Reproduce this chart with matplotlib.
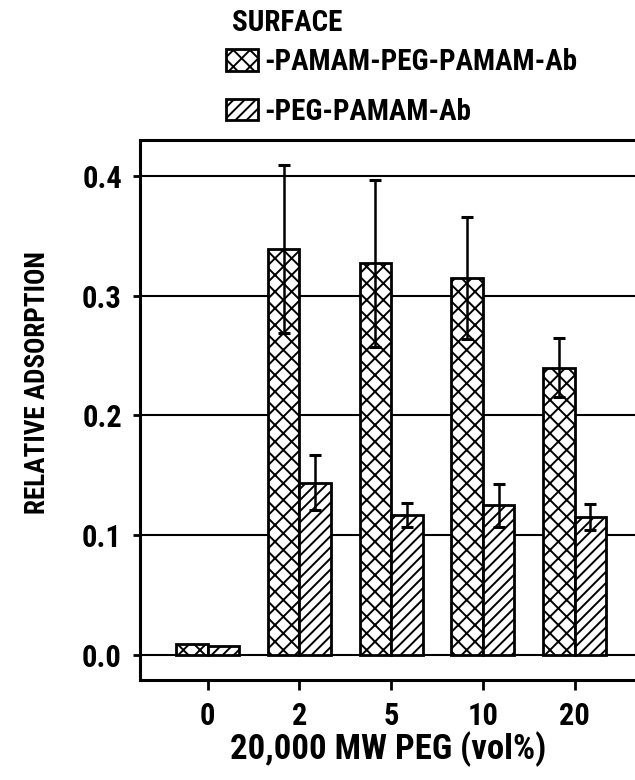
import numpy as np
import matplotlib
matplotlib.use("Agg")
import matplotlib.pyplot as plt
from matplotlib.patches import Patch

plt.rcParams['font.family'] = ['Roboto Condensed', 'DejaVu Sans']
plt.rcParams['font.stretch'] = 'condensed'
plt.rcParams['font.weight'] = 'bold'
plt.rcParams['axes.labelweight'] = 'bold'
plt.rcParams['hatch.linewidth'] = 1.4

# PEG concentration categories (vol%)
categories = ["0", "2", "5", "10", "20"]

# relative adsorption for each surface
pamam_peg_pamam_ab = [0.009, 0.339, 0.327, 0.315, 0.240]
pamam_peg_pamam_ab_err = [np.nan, 0.070, 0.070, 0.051, 0.025]
peg_pamam_ab = [0.0075, 0.144, 0.117, 0.125, 0.115]
peg_pamam_ab_err = [np.nan, 0.023, 0.010, 0.018, 0.011]

series_labels = ["-PAMAM-PEG-PAMAM-Ab", "-PEG-PAMAM-Ab"]
y_ticks = [0.0, 0.1, 0.2, 0.3, 0.4]

fig = plt.figure(figsize=(6.35, 7.8), dpi=100)
ax = fig.add_axes([140 / 635, 1 - 680 / 780, 501 / 635, 540 / 780])

x = np.arange(len(categories))
w = 0.343
edge_lw = 2.0

ax.bar(x - w / 2, pamam_peg_pamam_ab, w, facecolor="white", edgecolor="black",
       linewidth=edge_lw, hatch="xx", zorder=3)
ax.bar(x + w / 2, peg_pamam_ab, w, facecolor="white", edgecolor="black",
       linewidth=edge_lw, hatch="///", zorder=3)

ax.errorbar(x - w / 2, pamam_peg_pamam_ab, yerr=pamam_peg_pamam_ab_err, fmt="none",
            ecolor="black", elinewidth=1.8, capsize=4.3, capthick=2.2, zorder=4)
ax.errorbar(x + w / 2, peg_pamam_ab, yerr=peg_pamam_ab_err, fmt="none",
            ecolor="black", elinewidth=1.8, capsize=4.3, capthick=2.2, zorder=4)

ax.set_xlim(-0.738, 4.723)
ax.set_ylim(-0.0209, 0.430)
ax.set_xticks(x)
ax.set_xticklabels(categories)
ax.set_yticks(y_ticks)
ax.set_yticklabels([f"{v:.1f}" for v in y_ticks])

ax.yaxis.grid(True, color="black", linewidth=1.5, zorder=1)
ax.set_axisbelow(True)

for s in ax.spines.values():
    s.set_linewidth(2.2)
ax.tick_params(axis="x", direction="out", length=7, width=2, pad=8,
               labelsize=22)
ax.tick_params(axis="y", direction="out", length=5, width=2, pad=8,
               labelsize=22)

ax.set_xlabel("20,000 MW PEG (vol%)", fontsize=25)
ax.xaxis.set_label_coords(0.495, -0.128)
ax.xaxis.label.set_va("center")
ax.set_ylabel("RELATIVE ADSORPTION", fontsize=19.5)
ax.yaxis.set_label_coords(-0.205, 0.551)
ax.yaxis.label.set_va("center")

handles = [
    Patch(facecolor="white", edgecolor="black", linewidth=2, hatch="xx"),
    Patch(facecolor="white", edgecolor="black", linewidth=2, hatch="///"),
]
leg = fig.legend(handles, series_labels, title="SURFACE", loc="upper left",
                 bbox_to_anchor=(226 / 635, 1 - 9 / 780), frameon=False,
                 fontsize=21, title_fontsize=21, handlelength=1.1,
                 handleheight=0.75, handletextpad=0.2, labelspacing=0.74,
                 borderpad=0, borderaxespad=0)
leg._legend_box.align = "left"
leg._legend_box.sep = 8.0
leg.get_title().set_position((6, 0))

fig.savefig("out.png", dpi=100)
